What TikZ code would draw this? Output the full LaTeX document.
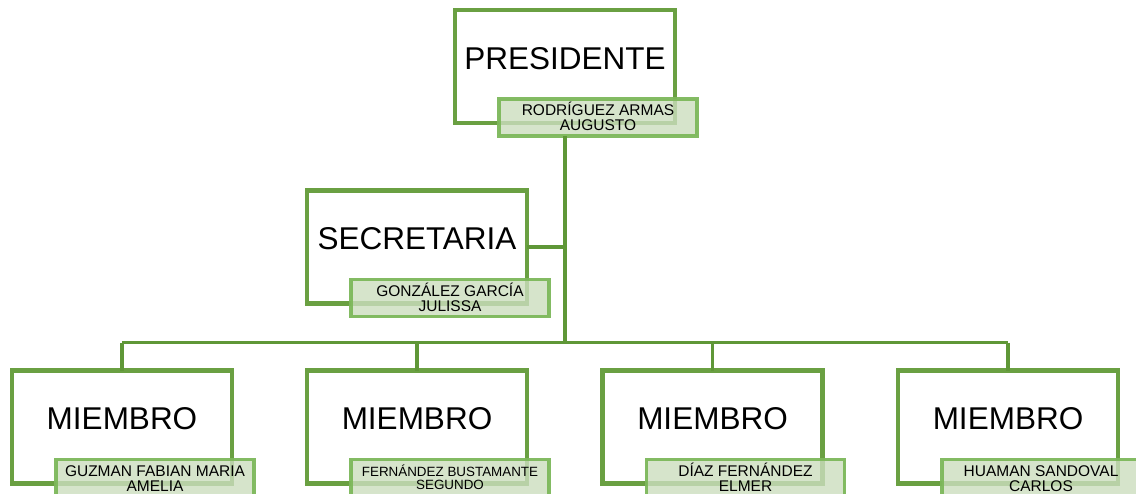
\documentclass[tikz,border=0pt]{standalone}
\usepackage{fontspec}
\setmainfont{Liberation Sans}
\definecolor{boxgreen}{HTML}{6AA042}
\definecolor{linegreen}{HTML}{5F9737}
\definecolor{namegreen}{HTML}{7DB85B}
\definecolor{namefill}{HTML}{CCDEBF}
\tikzset{
  bigbox/.style={draw=boxgreen, line width=4.4pt, fill=white, rectangle, outer sep=0pt, inner sep=0pt, minimum width=220pt, minimum height=113pt, anchor=north west},
  namebox/.style={draw=namegreen, line width=3.4pt, fill=namefill, fill opacity=0.8, draw opacity=0.95, rectangle, outer sep=0pt, inner sep=0pt, minimum width=198pt, minimum height=37pt, anchor=north west},
  bigtext/.style={anchor=base, inner sep=0pt, font=\fontsize{31.5}{36}\selectfont},
  nametext/.style={anchor=base, inner sep=0pt, font=\fontsize{15.5}{15}\selectfont},
  smalltext/.style={anchor=base, inner sep=0pt, font=\fontsize{13.4}{13}\selectfont},
  conn/.style={draw=linegreen, line width=3.1pt}
}
\newcommand{\twoline}[2]{\begin{tabular}[t]{@{}c@{}}#1\\#2\end{tabular}}
\begin{document}
\begin{tikzpicture}[x=1pt,y=-1pt]
\clip (0,0) rectangle (1136,493);
\fill[white] (0,0) rectangle (1136,493);
\coordinate (presP) at (455,10);
\coordinate (secP) at (307,190.5);
\coordinate (m1P) at (12,370.5);
\coordinate (m2P) at (307,370.5);
\coordinate (m3P) at (602.5,370.5);
\coordinate (m4P) at (898,370.5);
\coordinate (bus) at (565,342.7);
% boxes
\node[bigbox] (pres) at (presP) {};
\node[bigbox] (sec) at (secP) {};
\node[bigbox] (m1) at (m1P) {};
\node[bigbox] (m2) at (m2P) {};
\node[bigbox] (m3) at (m3P) {};
\node[bigbox] (m4) at (m4P) {};
\node[namebox] (presname) at ([xshift=44pt,yshift=-89pt]pres.north west) {};
\node[namebox] (secname) at ([xshift=44pt,yshift=-89pt]sec.north west) {};
\node[namebox] (m1name) at ([xshift=44pt,yshift=-89pt]m1.north west) {};
\node[namebox] (m2name) at ([xshift=44pt,yshift=-89pt]m2.north west) {};
\node[namebox] (m3name) at ([xshift=44pt,yshift=-89pt]m3.north west) {};
\node[namebox] (m4name) at ([xshift=44pt,yshift=-89pt]m4.north west) {};
% connectors
\draw[conn] (pres.center |- presname.south) -- (bus);
\draw[conn] (sec.east) -- (sec.east -| bus);
\draw[conn] (m1.north |- bus) -- (m4.north |- bus);
\draw[conn] (m1.north |- bus) -- (m1.north);
\draw[conn] (m2.north |- bus) -- (m2.north);
\draw[conn] (m3.north |- bus) -- (m3.north);
\draw[conn] (m4.north |- bus) -- (m4.north);
% titles
\node[bigtext] (prest) at ([yshift=-59pt]pres.north) {PRESIDENTE};
\node[bigtext] (sect) at ([yshift=-59pt]sec.north) {SECRETARIA};
\node[bigtext] (m1t) at ([yshift=-59pt]m1.north) {MIEMBRO};
\node[bigtext] (m2t) at ([yshift=-59pt]m2.north) {MIEMBRO};
\node[bigtext] (m3t) at ([yshift=-59pt]m3.north) {MIEMBRO};
\node[bigtext] (m4t) at ([yshift=-59pt]m4.north) {MIEMBRO};
% names
\node[nametext] (presn) at ([yshift=-16.5pt]presname.north) {\twoline{RODRÍGUEZ ARMAS}{AUGUSTO}};
\node[nametext] (secn) at ([yshift=-16.5pt]secname.north) {\twoline{GONZÁLEZ GARCÍA}{JULISSA}};
\node[nametext] (m1n) at ([yshift=-16.5pt]m1name.north) {\twoline{GUZMAN FABIAN MARIA}{AMELIA}};
\node[smalltext] (m2n) at ([yshift=-16.5pt]m2name.north) {\twoline{FERNÁNDEZ BUSTAMANTE}{SEGUNDO}};
\node[nametext] (m3n) at ([yshift=-16.5pt]m3name.north) {\twoline{DÍAZ FERNÁNDEZ}{ELMER}};
\node[nametext] (m4n) at ([yshift=-16.5pt]m4name.north) {\twoline{HUAMAN SANDOVAL}{CARLOS}};
\end{tikzpicture}
\end{document}
